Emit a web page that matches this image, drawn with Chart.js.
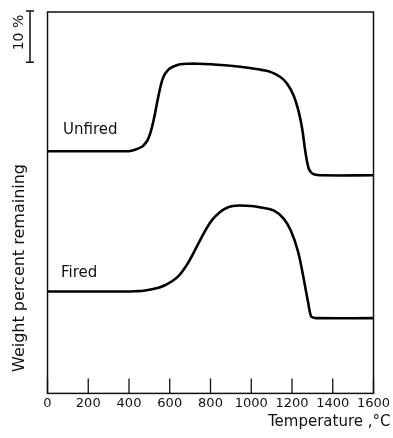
<!DOCTYPE html>
<html>
<head>
<meta charset="utf-8">
<script src="https://cdn.jsdelivr.net/npm/chart.js@4"></script>
<style>
  html, body { margin: 0; padding: 0; background: #fff; }
  #wrap { width: 393px; height: 438px; }
</style>
</head>
<body>
<div id="wrap"><canvas id="c" width="393" height="438"></canvas></div>
<script>
// Temperature (°C) sample points
const unfiredTemps = [0, 380, 406, 430, 455, 470, 490, 505, 520, 540, 555, 570, 590, 615, 651, 700, 733, 800, 870, 946, 1000, 1050, 1094, 1143, 1176, 1208, 1233, 1250, 1266, 1282, 1296, 1307, 1340, 1600];
// Relative weight percent (arbitrary offset; 10 units = the 10 % bar)
const unfiredValues = [47.3, 47.3, 47.35, 47.6, 48.0, 48.4, 49.4, 50.9, 53.2, 57.2, 60.0, 61.9, 63.1, 63.8, 64.3, 64.4, 64.4, 64.3, 64.1, 63.8, 63.5, 63.2, 62.8, 61.8, 60.5, 58.2, 55.0, 51.7, 47.1, 43.9, 43.1, 42.8, 42.6, 42.6];

const firedTemps = [0, 340, 381, 430, 479, 545, 580, 611, 640, 665, 690, 720, 750, 780, 810, 840, 872, 910, 948, 1000, 1047, 1112, 1160, 1194, 1229, 1253, 1278, 1293, 1305, 1318, 1600];
const firedValues = [19.9, 19.9, 19.9, 19.95, 20.1, 20.65, 21.2, 21.9, 22.8, 24.0, 25.5, 27.7, 30.0, 32.2, 34.0, 35.2, 36.1, 36.6, 36.7, 36.6, 36.3, 35.7, 34.1, 31.8, 27.8, 23.3, 18.0, 15.1, 14.8, 14.7, 14.7];

const xTicks = [0, 200, 400, 600, 800, 1000, 1200, 1400, 1600];
const seriesLabels = ["Unfired", "Fired"];
const labelAnchors = [[76, 51.4], [66, 23.5]]; // [temp, value] for curve labels
const scaleBar = [64.7, 74.7]; // 10 % bar extent in value units
const scaleBarText = "10 %";
const xTitle = "Temperature ,°C";
const yTitle = "Weight percent remaining";
const yTitleCenter = 24.5; // value at which the y title is centred

Chart.defaults.font.family = "'DejaVu Sans', sans-serif";
Chart.defaults.color = "#111";

const toPts = (xs, ys) => xs.map((x, i) => ({ x: x, y: ys[i] }));

const decor = {
  id: 'decor',
  afterDraw(chart) {
    const { ctx, chartArea: a, scales } = chart;
    const xs = scales.x, ys = scales.y;
    ctx.save();
    ctx.strokeStyle = '#111';
    // frame
    ctx.lineWidth = 1.5;
    ctx.strokeRect(a.left, a.top, a.right - a.left, a.bottom - a.top);
    // inward tick marks
    ctx.lineWidth = 1.3;
    xTicks.forEach(t => {
      const px = xs.getPixelForValue(t);
      ctx.beginPath();
      ctx.moveTo(px, a.bottom);
      ctx.lineTo(px, a.bottom - 15);
      ctx.stroke();
    });
    // 10 % scale bar
    const bx = a.left - 17.5;
    const y1 = ys.getPixelForValue(scaleBar[0]);
    const y2 = ys.getPixelForValue(scaleBar[1]);
    ctx.lineWidth = 1.5;
    ctx.beginPath();
    ctx.moveTo(bx, y1); ctx.lineTo(bx, y2);
    ctx.moveTo(bx - 4, y1); ctx.lineTo(bx + 4, y1);
    ctx.moveTo(bx - 4, y2); ctx.lineTo(bx + 4, y2);
    ctx.stroke();
    ctx.fillStyle = '#111';
    ctx.font = "14px 'DejaVu Sans'";
    ctx.textAlign = 'center';
    ctx.textBaseline = 'middle';
    ctx.save();
    ctx.translate(bx - 10.5, (y1 + y2) / 2 - 4);
    ctx.rotate(-Math.PI / 2);
    ctx.fillText(scaleBarText, 0, 0);
    ctx.restore();
    // y axis title
    ctx.save();
    ctx.font = "16px 'DejaVu Sans'";
    ctx.translate(a.left - 28, ys.getPixelForValue(yTitleCenter));
    ctx.rotate(-Math.PI / 2);
    ctx.fillText(yTitle, 0, 0);
    ctx.restore();
    // curve labels
    ctx.font = "15px 'DejaVu Sans'";
    ctx.textAlign = 'left';
    seriesLabels.forEach((s, i) => {
      ctx.fillText(s, xs.getPixelForValue(labelAnchors[i][0]), ys.getPixelForValue(labelAnchors[i][1]));
    });
    // x axis title (right aligned, extends past frame as in the original)
    ctx.font = "15px 'DejaVu Sans'";
    ctx.textAlign = 'right';
    ctx.fillText(xTitle, a.right + 17, 422);
    ctx.restore();
  }
};

new Chart(document.getElementById('c'), {
  type: 'line',
  data: {
    datasets: [
      { label: seriesLabels[0], data: toPts(unfiredTemps, unfiredValues) },
      { label: seriesLabels[1], data: toPts(firedTemps, firedValues) }
    ].map(d => Object.assign(d, {
      borderColor: '#000', borderWidth: 2.6, pointRadius: 0,
      tension: 0.4, fill: false
    }))
  },
  options: {
    responsive: false,
    animation: false,
    layout: { padding: { left: 47.5, top: 12, right: 19.5, bottom: 25 } },
    plugins: { legend: { display: false }, tooltip: { enabled: false } },
    scales: {
      x: {
        type: 'linear', min: 0, max: 1600,
        afterBuildTicks: s => { s.ticks = xTicks.map(v => ({ value: v })); },
        ticks: { font: { size: 13 }, padding: 2, maxRotation: 0, autoSkip: false, color: '#111',
                 callback: v => String(v) },
        grid: { display: false, drawTicks: false },
        border: { display: false }
      },
      y: {
        display: false,
        min: 0, max: 74.5
      }
    }
  },
  plugins: [decor]
});
</script>
</body>
</html>
